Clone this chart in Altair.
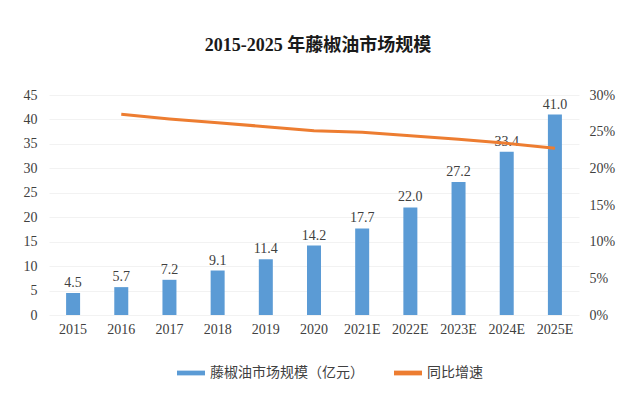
import altair as alt
import pandas as pd

years = ["2015", "2016", "2017", "2018", "2019", "2020", "2021E", "2022E", "2023E", "2024E", "2025E"]
market = [4.5, 5.7, 7.2, 9.1, 11.4, 14.2, 17.7, 22.0, 27.2, 33.4, 41.0]
growth_years = ["2016", "2017", "2018", "2019", "2020", "2021E", "2022E", "2023E", "2024E", "2025E"]
growth = [0.2737, 0.2673, 0.2622, 0.2568, 0.2513, 0.2491, 0.2445, 0.2396, 0.2341, 0.2273]

bar_name = "藤椒油市场规模（亿元）"
line_name = "同比增速"

bar_df = pd.DataFrame({"year": years, "value": market, "series": bar_name})
line_df = pd.DataFrame({"year": growth_years, "rate": growth, "series": line_name})

FONT = "Liberation Serif, Noto Sans CJK SC"
TXT = "#404040"

color_scale = alt.Scale(domain=[bar_name, line_name], range=["#5b9bd5", "#ed7d31"])

x_axis = alt.Axis(labelAngle=0, domain=False, ticks=False, labelPadding=7, grid=False,
                  labelFont=FONT, labelFontSize=14, labelColor=TXT)
x_scale = alt.Scale(paddingInner=0.0, paddingOuter=0.0)

y_left_axis = alt.Axis(values=list(range(0, 46, 5)), domain=False, ticks=False,
                       labelPadding=12, labelFont=FONT, labelFontSize=14, labelColor=TXT,
                       labelOverlap=False, grid=True, gridColor="#f2f2f2", gridWidth=1)
y_left_scale = alt.Scale(domain=[0, 45], nice=False)

bars = alt.Chart(bar_df).mark_bar(size=14).encode(
    x=alt.X("year:N", sort=years, title=None, scale=x_scale, axis=x_axis),
    y=alt.Y("value:Q", title=None, scale=y_left_scale, axis=y_left_axis),
    color=alt.Color("series:N", scale=color_scale, sort=[bar_name, line_name],
                    legend=alt.Legend(title=None, orient="none", legendX=128, legendY=264,
                                      direction="horizontal",
                                      symbolType="M-1,-0.17H1V0.17H-1Z", symbolSize=784,
                                      symbolStrokeWidth=0,
                                      labelFont=FONT, labelFontSize=14, labelColor=TXT,
                                      labelOffset=5, columnPadding=30)),
)

labels = alt.Chart(bar_df).mark_text(dy=-10, font=FONT, fontSize=14, color=TXT).encode(
    x=alt.X("year:N", sort=years, title=None, scale=x_scale, axis=x_axis),
    y=alt.Y("value:Q", title=None, scale=y_left_scale, axis=y_left_axis),
    text=alt.Text("value:Q", format=".1f"),
)

left = alt.layer(bars, labels)

line = alt.Chart(line_df).mark_line(strokeWidth=3).encode(
    x=alt.X("year:N", sort=years, title=None, scale=x_scale, axis=x_axis),
    y=alt.Y("rate:Q", title=None,
            scale=alt.Scale(domain=[0, 0.30], nice=False),
            axis=alt.Axis(orient="right", values=[0, 0.05, 0.10, 0.15, 0.20, 0.25, 0.30],
                          format=".0%", domain=False, ticks=False, grid=False,
                          labelOverlap=False,
                          labelPadding=10, labelFont=FONT, labelFontSize=14, labelColor=TXT)),
    color=alt.Color("series:N", scale=color_scale, sort=[bar_name, line_name]),
)

chart = alt.layer(left, line).resolve_scale(y="independent").properties(
    width=530,
    height=220,
    background="white",
    title=alt.Title("2015-2025 年藤椒油市场规模", font=FONT, fontSize=18, fontWeight="bold",
                    color="#1a1a1a", anchor="middle", offset=33, dx=4),
    autosize=alt.AutoSizeParams(type="none"),
    padding={"left": 41, "top": 87, "right": 53, "bottom": 70},
).configure_view(stroke=None).configure_axis(domain=False, ticks=False)

chart.save("out.html", embed_options={"renderer": "svg", "actions": False})
